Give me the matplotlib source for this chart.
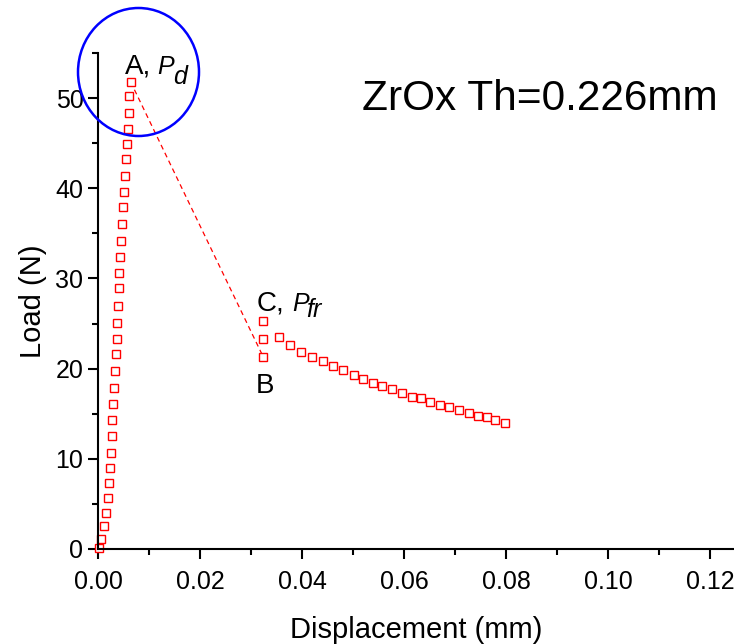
import matplotlib
matplotlib.use("Agg")
from matplotlib import pyplot as plt
from matplotlib.patches import Ellipse
from matplotlib.ticker import MultipleLocator, FormatStrFormatter

plt.rcParams['font.family'] = ['Liberation Sans', 'DejaVu Sans']

# loading branch (up to peak A)
disp_up = [0.0002, 0.0006, 0.0011, 0.0015, 0.0019, 0.0021, 0.0023, 0.0025,
           0.0027, 0.0028, 0.0030, 0.0031, 0.0033, 0.0035, 0.0037, 0.0038,
           0.0039, 0.0041, 0.0042, 0.0044, 0.0046, 0.0047, 0.0049, 0.0051,
           0.0052, 0.0054, 0.0057, 0.0059, 0.0060, 0.0061, 0.0064]
load_up = [0.1, 1.1, 2.5, 4.0, 5.6, 7.3, 9.0, 10.7, 12.5, 14.3, 16.1, 17.9,
           19.7, 21.6, 23.3, 25.1, 27.0, 28.9, 30.6, 32.4, 34.1, 36.0, 37.9,
           39.6, 41.4, 43.2, 44.9, 46.6, 48.4, 50.2, 51.8]

# after the drop (B, C and the tail)
disp_down = [0.0324, 0.0324, 0.0324, 0.0354, 0.0376, 0.0398, 0.0420, 0.0441,
             0.0461, 0.0481, 0.0501, 0.0520, 0.0539, 0.0557, 0.0576, 0.0596,
             0.0615, 0.0633, 0.0651, 0.0671, 0.0689, 0.0708, 0.0727, 0.0745,
             0.0763, 0.0779, 0.0798]
load_down = [21.3, 23.3, 25.3, 23.5, 22.6, 21.9, 21.3, 20.8, 20.3, 19.8, 19.3,
             18.9, 18.4, 18.1, 17.7, 17.3, 16.9, 16.7, 16.3, 16.0, 15.7, 15.4,
             15.1, 14.8, 14.6, 14.3, 14.0]

fig = plt.figure(figsize=(7.34, 6.44), dpi=100)
ax = fig.add_axes([98 / 734, 95 / 644, 636 / 734, 496 / 644])

# dashed drop from A to B
ax.plot([disp_up[-1], disp_down[0]], [load_up[-1], load_down[0]],
        color='red', linestyle=(0, (4, 3)), linewidth=0.9)

ax.plot(disp_up, load_up, linestyle='none', marker='s', markersize=5.2,
        markerfacecolor='white', markeredgecolor='red', markeredgewidth=1.0,
        clip_on=False)
ax.plot(disp_down, load_down, linestyle='none', marker='s', markersize=5.2,
        markerfacecolor='white', markeredgecolor='red', markeredgewidth=1.0,
        clip_on=False)

ax.set_xlim(0, 0.1247)
ax.set_ylim(0, 55)
ax.xaxis.set_major_locator(MultipleLocator(0.02))
ax.xaxis.set_minor_locator(MultipleLocator(0.01))
ax.yaxis.set_major_locator(MultipleLocator(10))
ax.yaxis.set_minor_locator(MultipleLocator(5))
ax.xaxis.set_major_formatter(FormatStrFormatter('%.2f'))

for side in ['top', 'right']:
    ax.spines[side].set_visible(False)
for side in ['left', 'bottom']:
    ax.spines[side].set_linewidth(1.5)

ax.tick_params(which='major', length=7, width=1.5, labelsize=18)
ax.tick_params(axis='x', which='major', pad=8)
ax.tick_params(which='minor', length=4, width=1.5)

ax.set_xlabel("Displacement (mm)", fontsize=21, labelpad=16)
ax.set_ylabel("Load (N)", fontsize=21, labelpad=6)

# point labels: letter, italic P and a near full-size italic subscript
ax.text(0.0053, 52.7, "A,", fontsize=20, va='baseline')
ax.text(0.0116, 52.7, "P", fontsize=18, style='italic', va='baseline')
ax.text(0.0147, 51.6, "d", fontsize=18, style='italic', va='baseline')
ax.text(0.0311, 26.4, "C,", fontsize=20, va='baseline')
ax.text(0.0380, 26.4, "P", fontsize=18, style='italic', va='baseline')
ax.text(0.0409, 25.7, "fr", fontsize=18, style='italic', va='baseline')
ax.text(0.0310, 17.3, "B", fontsize=20, va='baseline')

ax.text(0.695, 0.885, "ZrOx Th=0.226mm", fontsize=30.5, ha='center',
        transform=ax.transAxes)

# blue circle around the peak
circle = Ellipse((138.5 / 734, 1 - 72 / 644), 121 / 734, 128 / 644,
                 transform=fig.transFigure, fill=False, edgecolor='blue',
                 linewidth=1.8, clip_on=False)
fig.patches.append(circle)

plt.savefig("out.png", dpi=100)
